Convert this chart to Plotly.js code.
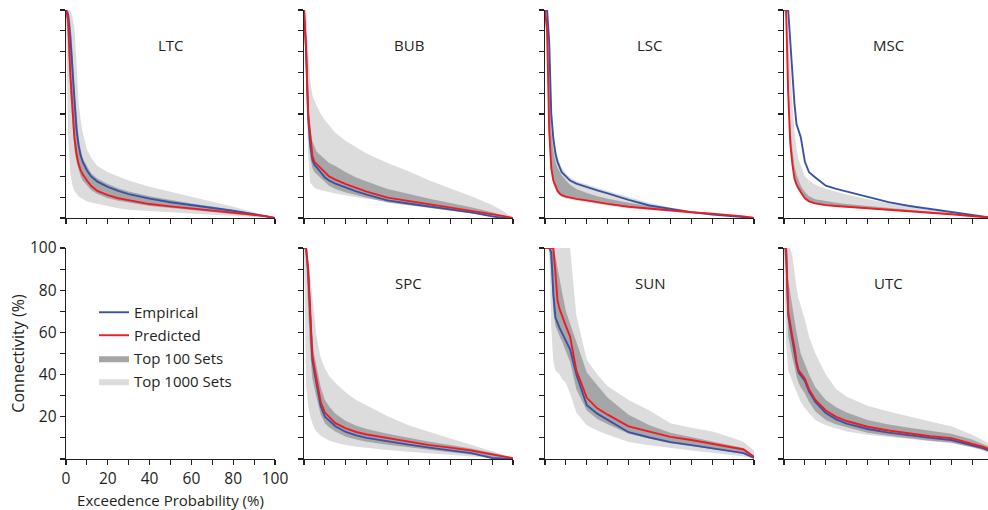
<!DOCTYPE html>
<html>
<head>
<meta charset="utf-8">
<script src="https://cdn.plot.ly/plotly-3.0.1.min.js"></script>
<style>html,body{margin:0;padding:0;background:#fff;}#chart{width:988px;height:510px;}</style>
</head>
<body>
<div id="chart"></div>
<script>
// Exceedence probability grid (%)
const X = [0,1,2,3,4,5,6,7,8,10,12,15,20,25,30,40,50,60,70,80,90,95,100];
const xTickVals = [0,10,20,30,40,50,60,70,80,90,100];
const xTickText = ['0','','20','','40','','60','','80','','100'];
const yTickText = ['','','20','','40','','60','','80','','100'];
const panelNames = ['LTC','BUB','LSC','MSC','SPC','SUN','UTC'];

// LTC
const ltcEmpirical = [100,98,88,74,55,43,35,30,27,23,20,17.5,15,13,11.5,9.3,7.6,6.2,5,3.5,1.8,1,0];
const ltcPredicted = [100,95,70,52,39,31,26,23,21,18,15.5,13,11,9.5,8.5,6.7,5.6,4.6,3.6,2.7,1.7,1.0,0];
const ltcTop1000Hi = [100,100,100,97,92,75,56,47,41,33,29,25,22,20,18,15,12.5,10,7.8,5.4,3,1.5,0];
const ltcTop1000Lo = [100,40,22,16,13,11.5,10.5,9.7,9,8,7.5,6.8,5.6,4.7,4,3.3,2.8,2.2,1.6,1.1,0.6,0.3,0];
const ltcTop100Hi = [100,100,95,82,62,48,39,33,29,25,21.5,19,16.3,14.3,12.8,10.5,8.6,7,5.5,4,2.2,1.2,0];
const ltcTop100Lo = [100,85,60,44,33,27,23,20,18,15.5,13.5,11.5,9.5,8.3,7.4,5.8,4.8,3.9,3,2.1,1.2,0.6,0];

// BUB
const bubEmpirical = [100,80,48,35,28,25.5,24.5,23,22,19.5,18,16.5,14.5,12.8,11.2,8.5,7,5.5,4.2,2.7,0.8,0,0];
const bubPredicted = [100,82,50,38,30,27,26,25,24,21.5,20,18.5,16.3,14.5,12.7,9.8,8.2,6.7,5.2,3.7,1.8,1.0,0];
const bubTop1000Hi = [100,100,80,66,59,56,54,52,50,47,44.5,41,37,34,31,26.5,22.5,18,14.3,10.5,6.2,3.5,0];
const bubTop1000Lo = [100,60,30,17,15.5,14.5,14,13.8,13.5,13,12.5,11.8,10.8,10,9.3,8,6.9,5.5,4.2,2.8,1,0.3,0];
const bubTop100Hi = [100,90,60,43,37,34,32,31,30,28,26.5,25,22,19.5,17.5,14,11.5,9.3,7.2,5.2,2.8,1.5,0];
const bubTop100Lo = [100,70,40,29,24,22,21,20,19,17,15.5,14,12.3,11,9.7,7.5,6.2,4.8,3.6,2.3,0.8,0.2,0];

// LSC
const lscEmpirical = [100,100,85,50,38,31,27,24.5,22,20,18,16.5,14.8,13.3,11.8,8.7,6,4.3,2.8,1.7,0.7,0.3,0];
const lscPredicted = [100,90,42,24,18,15,13,11.8,11,10.3,9.8,9.2,8.5,7.6,6.8,5.4,4.5,3.5,2.8,2.1,1.4,0.8,0];
const lscTop1000Hi = [100,100,88,55,42,34,29,26,24,21.5,19.5,17.8,16,14.5,13,10,7.2,5,3.3,2,0.9,0.4,0];
const lscTop1000Lo = [100,80,36,21,16,13.5,12,11,10,9.3,8.8,8.3,7.5,6.7,6,4.7,3.8,3,2.3,1.6,0.9,0.4,0];
const lscTop100Hi = [100,95,70,42,32,27,24,22,20.5,18,16,14,12,10.5,9.3,7.3,5.6,4.2,3,2,1.1,0.5,0];
const lscTop100Lo = [100,85,40,23,17,14.5,12.8,11.6,10.8,10,9.5,8.9,8.2,7.3,6.6,5.2,4.3,3.3,2.6,1.9,1.2,0.6,0];

// MSC
const mscEmpirical = [100,100,100,85,68,55,45,42,39,27,22,19.5,15.5,14,12.7,10,7.6,5.8,4.3,2.9,1.3,0.6,0];
const mscPredicted = [100,100,60,36,26,19,16,14,12.5,9.5,8,7,6.2,5.8,5.4,4.7,4,3.3,2.5,1.8,1,0.6,0];
const mscTop1000Hi = [100,100,90,70,55,42,33,28,25,20,18,16,14,12.5,11.3,9,7,5.3,3.9,2.6,1.2,0.6,0];
const mscTop1000Lo = [100,95,55,33,24,17.5,14.5,12.8,11.5,8.8,7.4,6.5,5.7,5.3,4.9,4.2,3.6,3,2.2,1.6,0.9,0.5,0];
const mscTop100Hi = [100,100,70,45,33,25,21,18,15.5,12.5,10.5,9,8,7.3,6.7,5.7,4.8,3.9,3,2.1,1.1,0.6,0];
const mscTop100Lo = [100,98,58,35,25,18.5,15.5,13.5,12,9.2,7.8,6.8,6,5.6,5.2,4.5,3.8,3.1,2.3,1.7,0.9,0.5,0];

// SPC
const spcEmpirical = [100,100,88,68,47,41,36,30,25,20,18,15.5,12.8,11.2,10,8.3,6.8,5.4,4.1,2.8,0.5,0.1,0];
const spcPredicted = [100,100,90,70,49,43,38,33,27,22,20,17,14.5,12.8,11.6,9.9,8.2,6.6,5.4,4,2.2,1.2,0.4];
const spcTop1000Hi = [100,100,95,85,75,65,58,53,48,43,39.5,36,31.5,28,25.3,20.3,16,12.7,9.7,6.8,3.7,2.2,0.6];
const spcTop1000Lo = [100,35,25,20,17,14.5,13,12,11,9.8,8.8,7.8,6.6,5.8,5.2,4.3,3.4,2.6,2,1.3,0.5,0.2,0];
const spcTop100Hi = [100,100,92,75,56,49,44,39,34,28,25,21.5,18,15.8,14.2,12,10,8.2,6.6,5,3,1.8,0.6];
const spcTop100Lo = [100,98,70,50,38,33,29,25,21,17,15,13,10.6,9.2,8.2,6.8,5.5,4.3,3.2,2.1,0.7,0.2,0];

// SUN
const sunEmpirical = [100,100,100,98,78,67,64,62,60,56,52,40,25.5,21.5,18.5,12.7,10.2,8,6.6,5,3.7,2.8,0.5];
const sunPredicted = [100,100,100,100,100,88,75,71,68,63,58,42,29,24,21,15.5,13,10.5,9,7.3,5.3,4.5,1];
const sunTop1000Hi = [100,100,100,100,100,100,100,100,100,100,100,68,47,40,34.5,28,23,17,14.8,13,10,8,4];
const sunTop1000Lo = [100,100,100,62,46,42,41,40,38,36,31,22,16,13.5,11.5,8,6.5,5.2,4,3,2,1.2,0.3];
const sunTop100Hi = [100,100,100,100,100,96,90,85,80,70,64,55,41,35,29,21,16,12.5,10.5,8.5,6.3,5.2,1.5];
const sunTop100Lo = [100,100,100,88,70,63,60,58,56,51,46,33,23,19,16.5,12,9.6,7.5,6.2,4.8,3.5,2.6,0.5];

// UTC
const utcEmpirical = [100,100,68,62,57,52,45,41,39.5,37,32,27,21.8,18.8,16.8,14.2,12.5,11.2,10,9,6.7,5.2,3.3];
const utcPredicted = [100,100,70,63,58,53,46,42,40.5,38,33,28,23,20,18,15.3,13.5,12.2,10.8,9.9,7.4,5.8,4];
const utcTop1000Hi = [100,100,100,100,96,88,81,76,73,66,58,50,40,33,29.5,25.2,22.5,20,17.8,15.5,11.5,9,6];
const utcTop1000Lo = [100,55,42,39,37,34,32,29,27,24,22,18.5,16,14.5,13,11.5,10.5,9.5,8.6,7.5,5.5,4,2.5];
const utcTop100Hi = [100,100,85,78,72,66,60,54,50,45,40,34,28,24.5,22,18.5,16.3,14.8,13.3,12,9.3,7.3,5];
const utcTop100Lo = [100,90,58,52,48,44,39,36,34,31,27,22.5,18.5,16.3,15,12.5,11,9.8,8.7,7.8,5.8,4.5,2.8];

const panels = [
  {name: panelNames[0], ax: 1, emp: ltcEmpirical, pred: ltcPredicted, h1k: ltcTop1000Hi, l1k: ltcTop1000Lo, h100: ltcTop100Hi, l100: ltcTop100Lo},
  {name: panelNames[1], ax: 2, emp: bubEmpirical, pred: bubPredicted, h1k: bubTop1000Hi, l1k: bubTop1000Lo, h100: bubTop100Hi, l100: bubTop100Lo},
  {name: panelNames[2], ax: 3, emp: lscEmpirical, pred: lscPredicted, h1k: lscTop1000Hi, l1k: lscTop1000Lo, h100: lscTop100Hi, l100: lscTop100Lo},
  {name: panelNames[3], ax: 4, emp: mscEmpirical, pred: mscPredicted, h1k: mscTop1000Hi, l1k: mscTop1000Lo, h100: mscTop100Hi, l100: mscTop100Lo},
  {name: panelNames[4], ax: 6, emp: spcEmpirical, pred: spcPredicted, h1k: spcTop1000Hi, l1k: spcTop1000Lo, h100: spcTop100Hi, l100: spcTop100Lo},
  {name: panelNames[5], ax: 7, emp: sunEmpirical, pred: sunPredicted, h1k: sunTop1000Hi, l1k: sunTop1000Lo, h100: sunTop100Hi, l100: sunTop100Lo},
  {name: panelNames[6], ax: 8, emp: utcEmpirical, pred: utcPredicted, h1k: utcTop1000Hi, l1k: utcTop1000Lo, h100: utcTop100Hi, l100: utcTop100Lo}
];

const W = 988, H = 510;
const BLUE = '#3953a4', RED = '#ed1c24', LIGHT = '#dcdcdc', DARK = '#a5a6a8', INK = '#231f20';
const FONT = 'Open Sans, sans-serif';

// pixel geometry of the grid
const colLeft = [66, 304, 545, 784];
const colW = 209;
const rowTop = [10, 248], rowBot = [218, 459];

function axName(n, letter) { return letter + (n === 1 ? '' : n); }

const data = [];
panels.forEach((p, i) => {
  const xa = axName(p.ax, 'x'), ya = axName(p.ax, 'y');
  const first = i === 0;
  data.push({x: X, y: p.l1k, xaxis: xa, yaxis: ya, mode: 'lines', line: {width: 0, color: LIGHT}, showlegend: false, hoverinfo: 'skip', legendgroup: 'g4'});
  data.push({x: X, y: p.h1k, xaxis: xa, yaxis: ya, mode: 'lines', fill: 'tonexty', fillcolor: LIGHT, line: {width: 0, color: LIGHT}, name: 'Top 1000 Sets', showlegend: first, legendrank: 4, legendgroup: 'g4', hoverinfo: 'skip'});
  data.push({x: X, y: p.l100, xaxis: xa, yaxis: ya, mode: 'lines', line: {width: 0, color: DARK}, showlegend: false, hoverinfo: 'skip', legendgroup: 'g3'});
  data.push({x: X, y: p.h100, xaxis: xa, yaxis: ya, mode: 'lines', fill: 'tonexty', fillcolor: DARK, line: {width: 0, color: DARK}, name: 'Top 100 Sets', showlegend: first, legendrank: 3, legendgroup: 'g3', hoverinfo: 'skip'});
  data.push({x: X, y: p.emp, xaxis: xa, yaxis: ya, mode: 'lines', line: {width: 1.9, color: BLUE}, name: 'Empirical', showlegend: first, legendrank: 1, legendgroup: 'g1'});
  data.push({x: X, y: p.pred, xaxis: xa, yaxis: ya, mode: 'lines', line: {width: 1.9, color: RED}, name: 'Predicted', showlegend: first, legendrank: 2, legendgroup: 'g2'});
});
// empty legend panel axes
data.push({x: [], y: [], xaxis: 'x5', yaxis: 'y5', mode: 'lines', showlegend: false, hoverinfo: 'skip'});

const layout = {
  width: W, height: H,
  margin: {l: 0, r: 0, t: 0, b: 0},
  paper_bgcolor: '#fff', plot_bgcolor: 'rgba(0,0,0,0)',
  font: {family: FONT, color: INK, size: 15},
  showlegend: true,
  legend: {x: 94 / W, y: 1 - 296 / H, xanchor: 'left', yanchor: 'top', bgcolor: 'rgba(0,0,0,0)', font: {size: 15, color: INK}, traceorder: 'grouped', tracegroupgap: 0.5, itemclick: false, itemdoubleclick: false},
  annotations: [],
  hovermode: false
};

const axisOrder = [1, 2, 3, 4, 5, 6, 7, 8];
axisOrder.forEach((n, k) => {
  const row = k < 4 ? 0 : 1, col = k % 4;
  const left = colLeft[col];
  let right = left + colW;
  let xmax = 100;
  if (right > W) { xmax = 100 * (W - left) / colW; right = W; }
  const isLabelled = n === 5;
  const base = {
    showline: true, linecolor: INK, linewidth: 1.3, ticks: 'outside', ticklen: 5, tickwidth: 1.1, tickcolor: INK,
    showgrid: false, zeroline: false, fixedrange: true, tickvals: xTickVals,
    showticklabels: isLabelled, tickfont: {size: 15.5, color: INK}
  };
  layout[axName(n, 'xaxis')] = Object.assign({}, base, {
    domain: [left / W, right / W], range: [0, xmax], anchor: axName(n, 'y'),
    ticktext: xTickText,
    title: isLabelled ? {text: 'Exceedence Probability (%)', font: {size: 15, color: INK}, standoff: 8} : {text: ''}
  });
  layout[axName(n, 'yaxis')] = Object.assign({}, base, {
    domain: [1 - rowBot[row] / H, 1 - rowTop[row] / H], range: [0, 100], anchor: axName(n, 'x'),
    ticktext: yTickText,
    title: isLabelled ? {text: 'Connectivity (%)', font: {size: 16, color: INK}, standoff: 1} : {text: ''}
  });
});

// panel titles
panels.forEach((p, i) => {
  const k = p.ax - 1;
  const row = k < 4 ? 0 : 1, col = k % 4;
  const cx = colLeft[col] + colW / 2;
  const cy = row === 0 ? 45 : 283;
  layout.annotations.push({text: p.name, xref: 'paper', yref: 'paper', x: cx / W, y: 1 - cy / H, xanchor: 'center', yanchor: 'middle', showarrow: false, font: {size: 15, color: INK}});
});

Plotly.newPlot('chart', data, layout, {displayModeBar: false, staticPlot: true});
</script>
</body>
</html>
